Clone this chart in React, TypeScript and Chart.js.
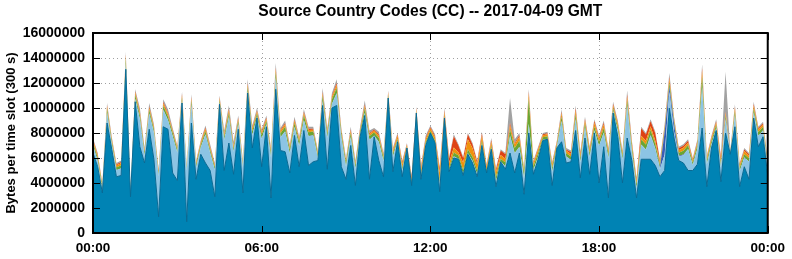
import React, { useEffect, useRef } from "react";
import { Chart, registerables } from "chart.js";

Chart.register(...registerables);

const TITLE = "Source Country Codes (CC) -- 2017-04-09 GMT";
const Y_TITLE = "Bytes per time slot (300 s)";
const FONT = "'Liberation Sans', Arial, Helvetica, sans-serif";

const timeLabels = [
  "00:00","00:10","00:20","00:30","00:40","00:50","01:00","01:10","01:20","01:30","01:40","01:50",
  "02:00","02:10","02:20","02:30","02:40","02:50","03:00","03:10","03:20","03:30","03:40","03:50",
  "04:00","04:10","04:20","04:30","04:40","04:50","05:00","05:10","05:20","05:30","05:40","05:50",
  "06:00","06:10","06:20","06:30","06:40","06:50","07:00","07:10","07:20","07:30","07:40","07:50",
  "08:00","08:10","08:20","08:30","08:40","08:50","09:00","09:10","09:20","09:30","09:40","09:50",
  "10:00","10:10","10:20","10:30","10:40","10:50","11:00","11:10","11:20","11:30","11:40","11:50",
  "12:00","12:10","12:20","12:30","12:40","12:50","13:00","13:10","13:20","13:30","13:40","13:50",
  "14:00","14:10","14:20","14:30","14:40","14:50","15:00","15:10","15:20","15:30","15:40","15:50",
  "16:00","16:10","16:20","16:30","16:40","16:50","17:00","17:10","17:20","17:30","17:40","17:50",
  "18:00","18:10","18:20","18:30","18:40","18:50","19:00","19:10","19:20","19:30","19:40","19:50",
  "20:00","20:10","20:20","20:30","20:40","20:50","21:00","21:10","21:20","21:30","21:40","21:50",
  "22:00","22:10","22:20","22:30","22:40","22:50","23:00","23:10","23:20","23:30","23:40","23:50",
  "00:00"
];
const xTickLabels = ["00:00", "06:00", "12:00", "18:00"];
const yMin = 0;
const yMax = 16000000;
const yStep = 2000000;

// bottom layer (teal)
const ccTeal = [
  6.4e6,5.3e6,3.2e6,8.8e6,6.7e6,4.5e6,4.6e6,13.1e6,2.9e6,10.5e6,
  6.9e6,5.6e6,8.3e6,5.9e6,1.3e6,8.5e6,8.3e6,4.8e6,4.2e6,10.4e6,
  0.9e6,8.8e6,4.3e6,6.3e6,5.6e6,5.0e6,2.9e6,10.3e6,5.0e6,7.2e6,
  4.7e6,8.3e6,3.2e6,11.2e6,6.8e6,9.2e6,5.3e6,8.5e6,2.8e6,11.5e6,
  6.6e6,6.5e6,4.8e6,7.8e6,5.3e6,8.2e6,5.4e6,5.7e6,5.8e6,10.2e6,
  5.1e6,10.0e6,10.2e6,5.3e6,4.3e6,7.0e6,3.8e6,7.7e6,9.4e6,4.3e6,
  7.7e6,5.8e6,4.5e6,10.8e6,4.9e6,7.3e6,4.5e6,6.8e6,3.8e6,9.6e6,
  4.3e6,7.0e6,8.0e6,7.2e6,3.3e6,9.2e6,4.9e6,6.0e6,5.9e6,4.6e6,
  6.3e6,5.6e6,4.5e6,7.0e6,4.8e6,6.7e6,3.7e6,5.7e6,5.1e6,6.4e6,
  4.8e6,6.4e6,3.1e6,8.0e6,4.7e6,5.9e6,7.4e6,7.5e6,3.8e6,6.8e6,
  7.3e6,5.6e6,5.7e6,8.2e6,4.4e6,7.6e6,4.7e6,8.0e6,4.0e6,6.9e6,
  2.8e6,9.6e6,7.7e6,4.0e6,7.6e6,5.8e6,2.8e6,5.9e6,5.9e6,5.9e6,
  5.4e6,4.5e6,5.0e6,10.0e6,7.6e6,5.8e6,5.6e6,5.0e6,5.0e6,5.5e6,
  8.4e6,3.7e6,6.8e6,8.2e6,4.1e6,8.0e6,6.3e6,8.5e6,3.7e6,5.3e6,
  4.3e6,9.2e6,6.9e6,7.7e6,4.6e6
];

const ccLightBlue = [
  0.63e6,0.45e6,0.26e6,0.82e6,0.41e6,0.52e6,0.56e6,0.45e6,0.19e6,0.25e6,
  2.2e6,0.58e6,1.26e6,2.12e6,3.25e6,1.35e6,0.72e6,2.95e6,2.22e6,0.18e6,
  4.1e6,1.45e6,0.93e6,0.55e6,2.28e6,1.4e6,2.14e6,0.13e6,2.45e6,2.08e6,
  1.8e6,0.4e6,2.03e6,0.1e6,1.03e6,0.1e6,2.23e6,0.2e6,3.23e6,0.92e6,
  1.05e6,1.63e6,1.57e6,0.68e6,1.67e6,0.83e6,2.35e6,2.1e6,0.18e6,0.35e6,
  2.53e6,0.33e6,0.97e6,2.33e6,1.0e6,0.68e6,1.35e6,0.13e6,0.21e6,3.15e6,
  0.08e6,1.48e6,1.25e6,0.05e6,1.18e6,0.08e6,0.51e6,0.01e6,0.03e6,0,
  0.16e6,0.06e6,0.01e6,0.03e6,0.63e6,0.03e6,0.06e6,0.13e6,0.03e6,0.08e6,
  0.08e6,0.16e6,0.18e6,0.11e6,0.03e6,0.08e6,0.41e6,0.03e6,0.23e6,1.37e6,
  1.58e6,0.48e6,1.28e6,0.73e6,0.33e6,0.21e6,0.05e6,0.03e6,1.11e6,0.05e6,
  1.66e6,0.51e6,0.16e6,0.93e6,1.26e6,0.83e6,1.39e6,0.21e6,2.96e6,1.13e6,
  3.18e6,0.16e6,0.46e6,1.86e6,2.57e6,0.71e6,0.78e6,1.16e6,0.76e6,1.9e6,
  1.33e6,0.6e6,1.28e6,1.3e6,0.53e6,0.33e6,0.63e6,1.7e6,0.43e6,1.26e6,
  3.25e6,1.81e6,0.31e6,0.18e6,1.15e6,1.1e6,0.03e6,0.91e6,1.23e6,0.74e6,
  1.41e6,0.43e6,0.86e6,0.51e6,0.75e6
];

const ccDarkBlue = [
  0.02e6,0.02e6,0.01e6,0.03e6,0.02e6,0.02e6,0.02e6,0.03e6,0.01e6,0.02e6,
  0.03e6,0.02e6,0.03e6,0.02e6,0.02e6,0.03e6,0.02e6,0.02e6,0.02e6,0.02e6,
  0.02e6,0.03e6,0.02e6,0.02e6,0.02e6,0.02e6,0.02e6,0.02e6,0.02e6,0.03e6,
  0.02e6,0.02e6,0.02e6,0.03e6,0.02e6,0.02e6,0.02e6,0.02e6,0.02e6,0.03e6,
  0.02e6,0.02e6,0.02e6,0.02e6,0.02e6,0.02e6,0.02e6,0.02e6,0.02e6,0.03e6,
  0.02e6,0.02e6,0.03e6,0.02e6,0.02e6,0.02e6,0.02e6,0.02e6,0.02e6,0.02e6,
  0.02e6,0.02e6,0.02e6,0.02e6,0.02e6,0.02e6,0.02e6,0.01e6,0.02e6,0.02e6,
  0.02e6,0.02e6,0.02e6,0.02e6,0.02e6,0.02e6,0.02e6,0.02e6,0.02e6,0.02e6,
  0.02e6,0.02e6,0.02e6,0.02e6,0.02e6,0.02e6,0.02e6,0.02e6,0.02e6,0.03e6,
  0.02e6,0.02e6,0.02e6,0.02e6,0.02e6,0.02e6,0.02e6,0.02e6,0.02e6,0.02e6,
  0.02e6,0.02e6,0.02e6,0.02e6,0.02e6,0.02e6,0.02e6,0.02e6,0.02e6,0.02e6,
  0.02e6,0.02e6,0.02e6,0.02e6,0.03e6,0.02e6,0.02e6,0.02e6,0.02e6,0.05e6,
  0.05e6,0.1e6,1.8e6,0.4e6,0.6e6,0.05e6,0.05e6,0.03e6,0.02e6,0.02e6,
  0.05e6,0.02e6,0.02e6,0.02e6,0.03e6,0.05e6,0.01e6,0.02e6,0.02e6,0.02e6,
  0.02e6,0.02e6,0.02e6,0.02e6,0.02e6
];

const ccGreen = [
  0.2e6,0.25e6,0.22e6,0.3e6,0.22e6,0.2e6,0.25e6,0.4e6,0.15e6,0.3e6,
  0.3e6,0.22e6,0.28e6,0.25e6,0.2e6,0.3e6,0.28e6,0.25e6,0.22e6,0.25e6,
  0.2e6,0.3e6,0.2e6,0.2e6,0.25e6,0.22e6,0.2e6,0.2e6,0.25e6,0.3e6,
  0.22e6,0.25e6,0.2e6,0.35e6,0.3e6,0.25e6,0.3e6,0.25e6,0.3e6,0.4e6,
  0.3e6,0.35e6,0.3e6,0.3e6,0.3e6,0.35e6,0.3e6,0.3e6,0.25e6,0.4e6,
  0.3e6,0.35e6,0.4e6,0.3e6,0.3e6,0.3e6,0.25e6,0.25e6,0.35e6,0.3e6,
  0.25e6,0.3e6,0.25e6,0.2e6,0.25e6,0.15e6,0.2e6,0.1e6,0.2e6,0.12e6,
  0.25e6,0.2e6,0.15e6,0.15e6,0.3e6,0.15e6,0.25e6,0.3e6,0.25e6,0.35e6,
  0.3e6,0.3e6,0.3e6,0.25e6,0.2e6,0.2e6,0.35e6,0.2e6,0.3e6,0.5e6,
  0.4e6,0.5e6,0.4e6,2.0e6,0.3e6,0.3e6,0.2e6,0.2e6,0.3e6,0.2e6,
  0.35e6,0.25e6,0.25e6,0.35e6,0.3e6,0.3e6,0.3e6,0.3e6,0.3e6,0.35e6,
  0.3e6,0.25e6,0.3e6,0.3e6,0.4e6,0.35e6,0.3e6,0.4e6,0.4e6,0.4e6,
  0.35e6,0.25e6,0.2e6,0.35e6,0.2e6,0.25e6,0.3e6,0.3e6,0.2e6,0.3e6,
  0.8e6,0.25e6,0.25e6,0.25e6,0.25e6,0.25e6,0.08e6,0.3e6,0.25e6,0.25e6,
  0.25e6,0.3e6,0.3e6,0.25e6,0.2e6
];

const ccOrange = [
  0.15e6,0.18e6,0.15e6,0.2e6,0.15e6,0.18e6,0.15e6,0.2e6,0.12e6,0.18e6,
  0.2e6,0.15e6,0.18e6,0.18e6,0.15e6,0.2e6,0.18e6,0.15e6,0.15e6,0.2e6,
  0.12e6,0.2e6,0.15e6,0.15e6,0.2e6,0.18e6,0.15e6,0.15e6,0.18e6,0.22e6,
  0.18e6,0.18e6,0.15e6,0.2e6,0.2e6,0.15e6,0.2e6,0.18e6,0.2e6,0.25e6,
  0.18e6,0.2e6,0.18e6,0.2e6,0.18e6,0.2e6,0.18e6,0.15e6,0.15e6,0.2e6,
  0.2e6,0.2e6,0.25e6,0.2e6,0.15e6,0.2e6,0.15e6,0.15e6,0.2e6,0.15e6,
  0.15e6,0.2e6,0.15e6,0.15e6,0.2e6,0.25e6,0.3e6,0.15e6,0.3e6,0.18e6,
  0.35e6,0.25e6,0.2e6,0.25e6,0.6e6,0.3e6,0.4e6,0.4e6,0.25e6,0.6e6,
  0.8e6,0.7e6,0.5e6,0.4e6,0.25e6,0.3e6,0.4e6,0.3e6,0.3e6,0.3e6,
  0.3e6,0.3e6,0.2e6,0.4e6,0.25e6,0.25e6,0.15e6,0.15e6,0.25e6,0.15e6,
  0.25e6,0.2e6,0.2e6,0.3e6,0.25e6,0.25e6,0.25e6,0.3e6,0.25e6,0.3e6,
  0.25e6,0.2e6,0.25e6,0.2e6,0.3e6,0.25e6,0.25e6,0.3e6,0.3e6,0.3e6,
  0.25e6,0.2e6,0.2e6,0.3e6,0.15e6,0.2e6,0.25e6,0.2e6,0.15e6,0.2e6,
  0.5e6,0.2e6,0.2e6,0.2e6,0.25e6,0.2e6,0.08e6,0.25e6,0.2e6,0.25e6,
  0.2e6,0.25e6,0.2e6,0.2e6,0.15e6
];

const ccRed = [
  0.08e6,0.1e6,0.06e6,0.1e6,0.08e6,0.08e6,0.1e6,0.12e6,0.05e6,0.1e6,
  0.12e6,0.08e6,0.1e6,0.08e6,0.08e6,0.12e6,0.1e6,0.08e6,0.07e6,0.1e6,
  0.06e6,0.12e6,0.08e6,0.08e6,0.1e6,0.08e6,0.07e6,0.08e6,0.1e6,0.12e6,
  0.08e6,0.1e6,0.08e6,0.12e6,0.1e6,0.08e6,0.1e6,0.1e6,0.1e6,0.15e6,
  0.1e6,0.1e6,0.08e6,0.1e6,0.08e6,0.1e6,0.1e6,0.08e6,0.08e6,0.12e6,
  0.1e6,0.1e6,0.15e6,0.1e6,0.08e6,0.1e6,0.08e6,0.1e6,0.12e6,0.08e6,
  0.08e6,0.1e6,0.08e6,0.08e6,0.1e6,0.1e6,0.15e6,0.05e6,0.15e6,0.1e6,
  0.2e6,0.12e6,0.1e6,0.1e6,0.3e6,0.15e6,0.35e6,0.9e6,0.55e6,0.35e6,
  0.4e6,0.3e6,0.2e6,0.2e6,0.1e6,0.15e6,0.2e6,0.35e6,0.35e6,0.2e6,
  0.1e6,0.15e6,0.1e6,0.15e6,0.1e6,0.1e6,0.08e6,0.08e6,0.1e6,0.08e6,
  0.12e6,0.1e6,0.15e6,0.2e6,0.15e6,0.15e6,0.12e6,0.15e6,0.12e6,0.15e6,
  0.1e6,0.12e6,0.12e6,0.1e6,0.2e6,0.15e6,0.15e6,0.6e6,0.5e6,0.4e6,
  0.6e6,0.15e6,0.1e6,0.15e6,0.1e6,0.15e6,0.15e6,0.15e6,0.1e6,0.1e6,
  0.2e6,0.1e6,0.1e6,0.1e6,0.3e6,0.1e6,0.05e6,0.12e6,0.1e6,0.12e6,
  0.12e6,0.15e6,0.1e6,0.1e6,0.08e6
];

const ccGray = [
  0.12e6,0.1e6,0.1e6,0.15e6,0.12e6,0.1e6,0.12e6,0.2e6,0.08e6,0.15e6,
  0.25e6,0.15e6,0.25e6,0.15e6,0.1e6,0.2e6,0.3e6,0.15e6,0.12e6,0.15e6,
  0.1e6,0.2e6,0.12e6,0.1e6,0.15e6,0.2e6,0.12e6,0.12e6,0.2e6,0.25e6,
  0.3e6,0.15e6,0.12e6,0.3e6,0.15e6,0.2e6,0.15e6,0.15e6,0.15e6,0.35e6,
  0.15e6,0.2e6,0.15e6,0.2e6,0.15e6,0.2e6,0.15e6,0.15e6,0.12e6,0.3e6,
  0.15e6,0.2e6,0.3e6,0.15e6,0.15e6,0.2e6,0.15e6,0.15e6,0.3e6,0.2e6,
  0.12e6,0.2e6,0.15e6,0.1e6,0.15e6,0.1e6,0.12e6,0.08e6,0.1e6,0.08e6,
  0.12e6,0.15e6,0.12e6,0.15e6,0.15e6,0.15e6,0.12e6,0.15e6,0.1e6,0.1e6,
  0.1e6,0.12e6,0.1e6,0.12e6,0.1e6,0.15e6,0.12e6,0.1e6,0.1e6,2.0e6,
  0.3e6,0.15e6,0.1e6,0.2e6,0.1e6,0.12e6,0.1e6,0.12e6,0.12e6,0.1e6,
  0.2e6,0.12e6,0.12e6,0.2e6,0.12e6,0.15e6,0.12e6,0.12e6,0.15e6,0.15e6,
  0.15e6,0.15e6,0.15e6,0.12e6,0.3e6,0.12e6,0.1e6,0.12e6,0.12e6,0.15e6,
  0.12e6,0.1e6,0.12e6,0.3e6,0.12e6,0.12e6,0.12e6,0.12e6,0.1e6,0.12e6,
  0.3e6,0.12e6,0.12e6,0.15e6,0.12e6,3.2e6,0.05e6,0.2e6,0.1e6,0.12e6,
  0.1e6,0.15e6,0.12e6,0.12e6,0.1e6
];

const seriesLayers = [
  { name: "CC1", data: ccTeal, color: "#0083b4", edge: "#0a6a94", edgeWidth: 1 },
  { name: "CC2", data: ccLightBlue, color: "#8cc4e4", edge: "#8cc4e4", edgeWidth: 0 },
  { name: "CC3", data: ccDarkBlue, color: "#3c5cb4", edge: "#3c5cb4", edgeWidth: 0 },
  { name: "CC4", data: ccGreen, color: "#6ca531", edge: "#6ca531", edgeWidth: 0 },
  { name: "CC5", data: ccOrange, color: "#f0920c", edge: "#f0920c", edgeWidth: 0 },
  { name: "CC6", data: ccRed, color: "#de4214", edge: "#de4214", edgeWidth: 0 },
  { name: "CC7", data: ccGray, color: "#a2a2a2", edge: "#a2a2a2", edgeWidth: 0 },
];

const framePlugin = {
  id: "framePlugin",
  beforeDatasetsDraw(chart: any) {
    const { ctx, chartArea: a, scales } = chart;
    const ys = scales.y;
    const xs = scales.x;
    ctx.save();
    ctx.strokeStyle = "#a0a0a0";
    ctx.lineWidth = 1;
    ctx.setLineDash([1, 3]);
    ys.ticks.forEach((t: any) => {
      if (t.value <= yMin || t.value >= yMax) return;
      const y = Math.round(ys.getPixelForValue(t.value)) + 0.5;
      ctx.beginPath();
      ctx.moveTo(a.left, y);
      ctx.lineTo(a.right, y);
      ctx.stroke();
    });
    timeLabels.forEach((lab, i) => {
      if (i === 0 || i === timeLabels.length - 1) return;
      if (!xTickLabels.includes(lab)) return;
      const x = Math.round(xs.getPixelForValue(i)) + 0.5;
      ctx.beginPath();
      ctx.moveTo(x, a.top);
      ctx.lineTo(x, a.bottom);
      ctx.stroke();
    });
    ctx.restore();
  },
  afterDatasetsDraw(chart: any) {
    const { ctx, chartArea: a, scales } = chart;
    const ys = scales.y;
    const xs = scales.x;
    ctx.save();
    ctx.strokeStyle = "#000";
    ctx.lineWidth = 1;
    ys.ticks.forEach((t: any) => {
      const y = Math.round(ys.getPixelForValue(t.value)) + 0.5;
      ctx.beginPath();
      ctx.moveTo(a.left, y);
      ctx.lineTo(a.left + 7, y);
      ctx.moveTo(a.right, y);
      ctx.lineTo(a.right - 7, y);
      ctx.stroke();
    });
    timeLabels.forEach((lab, i) => {
      if (!xTickLabels.includes(lab)) return;
      const x = Math.round(xs.getPixelForValue(i)) + 0.5;
      ctx.beginPath();
      ctx.moveTo(x, a.top);
      ctx.lineTo(x, a.top + 7);
      ctx.moveTo(x, a.bottom);
      ctx.lineTo(x, a.bottom - 7);
      ctx.stroke();
    });
    ctx.lineWidth = 2;
    ctx.strokeRect(a.left, a.top, a.right - a.left, a.bottom - a.top);
    ctx.restore();
  },
  afterDraw(chart: any) {
    const { ctx, chartArea: a } = chart;
    ctx.save();
    ctx.fillStyle = "#000";
    ctx.font = `bold 15.6px ${FONT}`;
    ctx.textAlign = "center";
    ctx.textBaseline = "middle";
    ctx.fillText(TITLE, (a.left + a.right) / 2, 12);
    ctx.restore();
  },
};

export default function App() {
  const ref = useRef<HTMLCanvasElement | null>(null);
  useEffect(() => {
    if (!ref.current) return;
    Chart.defaults.font.family = FONT;
    const chart = new Chart(ref.current, {
      type: "line",
      data: {
        labels: timeLabels,
        datasets: seriesLayers.map((s, i) => ({
          label: s.name,
          data: s.data,
          backgroundColor: s.color,
          borderColor: s.edge,
          borderWidth: s.edgeWidth,
          fill: i === 0 ? "origin" : "-1",
          pointRadius: 0,
          tension: 0,
        })),
      },
      options: {
        animation: false,
        responsive: false,
        devicePixelRatio: 1,
        layout: { padding: { top: 33, right: 22, bottom: 0, left: 0 } },
        plugins: {
          legend: { display: false },
          title: { display: false },
          tooltip: { enabled: false },
        },
        scales: {
          x: {
            type: "category",
            grid: { display: false, drawTicks: false },
            border: { display: false },
            ticks: {
              autoSkip: false,
              maxRotation: 0,
              minRotation: 0,
              padding: 7,
              color: "#000",
              font: { size: 13.5, weight: "bold", family: FONT },
              callback: (_v: any, idx: number) =>
                xTickLabels.includes(timeLabels[idx]) ? timeLabels[idx] : "",
            },
            afterFit: (s: any) => {
              s.height = 26;
            },
          },
          y: {
            stacked: true,
            min: yMin,
            max: yMax,
            grid: { display: false, drawTicks: false },
            border: { display: false },
            ticks: {
              stepSize: yStep,
              padding: 8,
              color: "#000",
              font: { size: 14, weight: "bold", family: FONT },
              callback: (v: any) => String(v),
            },
            title: {
              display: true,
              text: Y_TITLE,
              color: "#000",
              font: { size: 13, weight: "bold", family: FONT },
              padding: { top: 4, bottom: 0 },
            },
            afterFit: (s: any) => {
              s.width = 93;
            },
          },
        },
      },
      plugins: [framePlugin],
    });
    return () => chart.destroy();
  }, []);
  return (
    <div style={{ position: "absolute", left: 0, top: 0, width: 792, height: 259, background: "#fff" }}>
      <canvas ref={ref} width={792} height={259} style={{ display: "block" }} />
    </div>
  );
}
